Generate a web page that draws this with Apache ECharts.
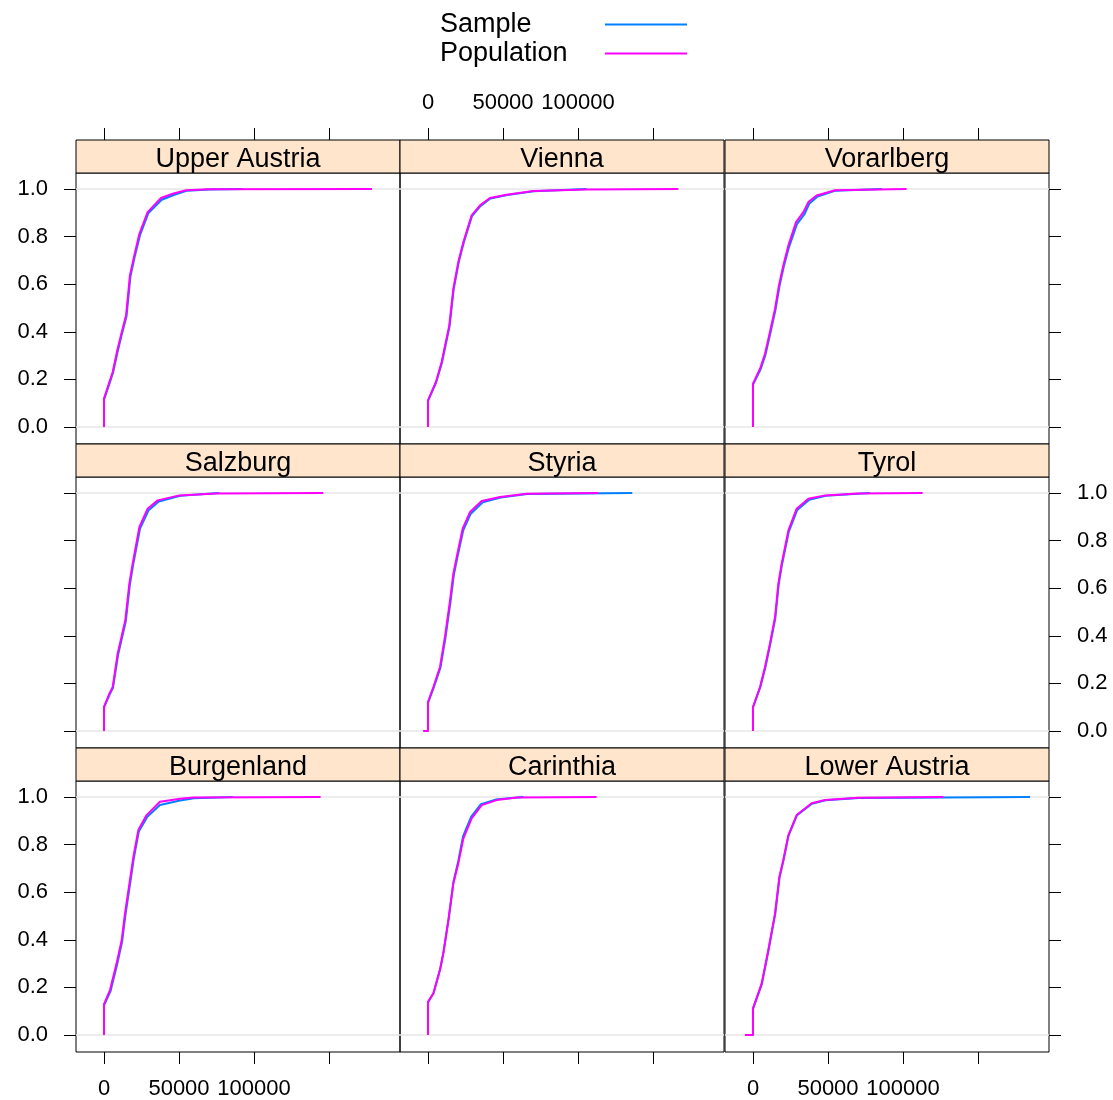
<!DOCTYPE html>
<html><head><meta charset="utf-8">
<script src="https://cdn.jsdelivr.net/npm/echarts@6/dist/echarts.min.js"></script>
<style>html,body{margin:0;padding:0;background:#fff}#c{width:1113px;height:1100px}</style>
</head><body><div id="c"></div>
<script>
const panelNames = ['Upper Austria','Vienna','Vorarlberg','Salzburg','Styria','Tyrol','Burgenland','Carinthia','Lower Austria'];
const seriesNames = ['Sample','Population'];
const xTicks = [0, 50000, 100000, 150000];
const xTickLabels = [0, 50000, 100000];
const yTicks = [0, 0.2, 0.4, 0.6, 0.8, 1.0];

const upperAustriaPopulation = [[0,0],[0,0.119],[3600,0.189],[5800,0.231],[9100,0.329],[11300,0.385],[14700,0.469],[15800,0.539],[17300,0.637],[20200,0.721],[23600,0.812],[29100,0.903],[38000,0.962],[45800,0.980],[54700,0.995],[70200,0.999],[178700,1]];
const upperAustriaSample = [[0,0],[0,0.115],[3800,0.185],[6000,0.228],[9400,0.325],[11600,0.382],[15000,0.465],[16100,0.535],[17600,0.632],[20500,0.716],[24000,0.806],[29500,0.898],[38500,0.955],[46500,0.975],[55500,0.993],[70000,0.998],[92700,1]];
const viennaPopulation = [[0,0],[0,0.112],[5300,0.189],[9100,0.273],[14200,0.427],[16900,0.581],[20200,0.693],[23600,0.777],[29100,0.889],[34700,0.931],[41300,0.962],[52400,0.976],[70200,0.992],[105800,0.998],[166900,1]];
const viennaSample = [[0,0],[0,0.110],[5400,0.187],[9300,0.270],[14400,0.424],[17100,0.578],[20400,0.690],[23800,0.774],[29300,0.886],[34900,0.928],[41600,0.960],[52800,0.975],[70500,0.991],[105800,1]];
const vorarlbergPopulation = [[0,0],[0,0.182],[4700,0.245],[8000,0.308],[11300,0.399],[14700,0.497],[17300,0.595],[20200,0.679],[23600,0.763],[28700,0.861],[33600,0.903],[36900,0.945],[42400,0.973],[54700,0.995],[102400,1]];
const vorarlbergSample = [[0,0],[0,0.178],[4900,0.240],[8300,0.303],[11600,0.395],[15000,0.492],[17600,0.590],[20500,0.673],[24000,0.756],[29300,0.852],[34200,0.893],[37500,0.938],[43000,0.968],[55000,0.993],[85800,1]];
const salzburgPopulation = [[0,0],[0,0.101],[3600,0.157],[5800,0.185],[9100,0.325],[14200,0.465],[16900,0.619],[19100,0.703],[23600,0.857],[29100,0.934],[35800,0.969],[50200,0.990],[74700,0.998],[146200,1]];
const salzburgSample = [[0,0],[0,0.099],[3800,0.154],[6000,0.182],[9400,0.320],[14500,0.460],[17200,0.613],[19400,0.697],[24000,0.850],[29800,0.928],[36500,0.964],[50800,0.988],[76700,1]];
const styriaPopulation = [[-3100,0],[0,0],[0,0.122],[3600,0.185],[8000,0.269],[11300,0.395],[14700,0.549],[16900,0.661],[19600,0.745],[23100,0.850],[28000,0.920],[35800,0.966],[48000,0.983],[65800,0.997],[113600,1]];
const styriaSample = [[-3100,0],[0,0],[0,0.118],[3800,0.182],[8300,0.266],[11600,0.390],[15000,0.543],[17200,0.655],[19900,0.739],[23500,0.843],[28500,0.913],[36500,0.961],[48500,0.981],[66000,0.996],[136200,1]];
const tyrolPopulation = [[0,0],[0,0.101],[4700,0.185],[8000,0.269],[11300,0.367],[14700,0.479],[16900,0.619],[19100,0.703],[23600,0.843],[29100,0.934],[36900,0.976],[48000,0.990],[70200,0.998],[113100,1]];
const tyrolSample = [[0,0],[0,0.099],[4800,0.183],[8200,0.266],[11500,0.364],[14900,0.475],[17100,0.614],[19300,0.698],[23900,0.838],[29500,0.929],[37500,0.972],[48500,0.988],[78000,1]];
const burgenlandPopulation = [[0,0],[0,0.130],[4000,0.189],[8400,0.301],[11800,0.399],[14000,0.511],[17300,0.651],[19600,0.749],[22900,0.861],[28400,0.924],[37300,0.980],[50700,0.993],[60000,0.998],[144400,1]];
const burgenlandSample = [[0,0],[0,0.125],[4300,0.183],[8700,0.295],[12100,0.393],[14300,0.505],[17600,0.645],[19900,0.743],[23200,0.855],[28900,0.917],[37300,0.966],[50700,0.985],[60000,0.995],[86000,1]];
const carinthiaPopulation = [[0,0],[0,0.140],[3600,0.175],[8000,0.273],[10200,0.343],[13600,0.483],[16900,0.637],[20200,0.721],[23600,0.826],[29100,0.910],[35800,0.966],[45800,0.987],[59100,0.998],[112400,1]];
const carinthiaSample = [[0,0],[0,0.137],[3800,0.178],[8200,0.280],[10400,0.350],[13800,0.490],[17000,0.645],[20200,0.731],[23400,0.836],[28800,0.918],[35300,0.970],[45000,0.989],[63600,1]];
const lowerAustriaPopulation = [[-5300,0],[0,0],[0,0.112],[5800,0.217],[10200,0.357],[14700,0.511],[17600,0.665],[20200,0.735],[23600,0.840],[29100,0.924],[39100,0.974],[48000,0.987],[70200,0.997],[126900,1]];
const lowerAustriaSample = [[-5300,0],[0,0],[0,0.110],[5900,0.214],[10300,0.354],[14800,0.508],[17700,0.662],[20300,0.733],[23700,0.838],[29200,0.922],[39300,0.972],[48300,0.986],[70500,0.996],[184700,1]];

const sampleData = [upperAustriaSample, viennaSample, vorarlbergSample, salzburgSample, styriaSample, tyrolSample, burgenlandSample, carinthiaSample, lowerAustriaSample];
const populationData = [upperAustriaPopulation, viennaPopulation, vorarlbergPopulation, salzburgPopulation, styriaPopulation, tyrolPopulation, burgenlandPopulation, carinthiaPopulation, lowerAustriaPopulation];

const FONT = '"Liberation Sans", Arial, Helvetica, sans-serif';
const colLeft = [76, 400, 725];
const colWidth = 324;
const rowTop = [173, 477, 781];
const panelH = 271;
const stripH = 33;
const pxPerX = 75 / 50000;
const xMin = -28 / pxPerX;
const xMax = xMin + colWidth / pxPerX;
const yMin = -17 / 238;
const yMax = yMin + panelH / 238;
const SAMPLE_COLOR = '#0080ff', POP_COLOR = '#ff00ff';

const grids = [], xAxes = [], yAxes = [], series = [], graphics = [];
panelNames.forEach((name, i) => {
  const r = Math.floor(i / 3), c = i % 3;
  grids.push({ left: colLeft[c], top: rowTop[r], width: colWidth, height: panelH, show: true, borderColor: '#000', borderWidth: 1, backgroundColor: 'transparent', containLabel: false });
  const xShowTicks = r !== 1;
  const xShowLabels = (r === 0 && c === 1) || (r === 2 && c !== 1);
  xAxes.push({
    type: 'value', gridIndex: i, min: xMin, max: xMax,
    position: r === 0 ? 'top' : 'bottom', offset: r === 0 ? stripH : 0,
    axisLine: { show: false, onZero: false }, splitLine: { show: false },
    axisTick: { show: xShowTicks, inside: false, length: 12, customValues: xTicks, lineStyle: { color: '#000', width: 1 } },
    axisLabel: { show: xShowLabels, customValues: xTickLabels, margin: 26, fontSize: 22, fontFamily: FONT, color: '#000', formatter: v => String(v) }
  });
  const yShowTicks = c !== 1;
  const yShowLabels = (c === 0 && r !== 1) || (c === 2 && r === 1);
  yAxes.push({
    type: 'value', gridIndex: i, min: yMin, max: yMax,
    position: c === 2 ? 'right' : 'left',
    axisLine: { show: false, onZero: false }, splitLine: { show: false },
    axisTick: { show: yShowTicks, inside: false, length: 12, customValues: yTicks, lineStyle: { color: '#000', width: 1 } },
    axisLabel: { show: yShowLabels, customValues: yTicks, margin: 28, fontSize: 22, fontFamily: FONT, color: '#000', formatter: v => v.toFixed(1) }
  });
  series.push({
    name: seriesNames[0], type: 'line', xAxisIndex: i, yAxisIndex: i, data: sampleData[i],
    symbol: 'none', showSymbol: false, silent: true, z: 2,
    lineStyle: { color: SAMPLE_COLOR, width: 2 }, itemStyle: { color: SAMPLE_COLOR },
    emphasis: { disabled: true },
    markLine: { silent: true, symbol: 'none', z: 1, label: { show: false }, animation: false,
      lineStyle: { color: '#e6e6e6', width: 1.5, type: 'solid' }, emphasis: { disabled: true },
      data: [{ yAxis: 0 }, { yAxis: 1 }] }
  });
  series.push({
    name: seriesNames[1], type: 'line', xAxisIndex: i, yAxisIndex: i, data: populationData[i],
    symbol: 'none', showSymbol: false, silent: true, z: 3,
    lineStyle: { color: POP_COLOR, width: 2 }, itemStyle: { color: POP_COLOR },
    emphasis: { disabled: true }
  });
  const sy = rowTop[r] - stripH;
  graphics.push({ type: 'rect', shape: { x: colLeft[c], y: sy, width: colWidth, height: stripH }, style: { fill: '#ffe5cc', stroke: '#000', lineWidth: 1 }, z: 10 });
  graphics.push({ type: 'text', x: colLeft[c] + colWidth / 2, y: sy + stripH / 2 + 3, style: { text: name, fontSize: 27, fontFamily: FONT, fill: '#000', align: 'center', verticalAlign: 'middle', textAlign: 'center', textVerticalAlign: 'middle' }, z: 11 });
});

const chart = echarts.init(document.getElementById('c'), null, { renderer: 'canvas' });
chart.setOption({
  animation: false,
  backgroundColor: '#fff',
  legend: {
    data: [
      { name: seriesNames[0], icon: 'rect', itemStyle: { color: SAMPLE_COLOR } },
      { name: seriesNames[1], icon: 'rect', itemStyle: { color: POP_COLOR } }
    ],
    orient: 'vertical', left: 435, top: 6, align: 'right',
    itemWidth: 82, itemHeight: 2, itemGap: 2, selectedMode: false,
    formatter: n => '{t|' + n + '}',
    textStyle: { rich: { t: { width: 160, align: 'left', fontSize: 27, fontFamily: FONT, color: '#000', lineHeight: 28 } } }
  },
  grid: grids, xAxis: xAxes, yAxis: yAxes, series: series, graphic: graphics
});
</script></body></html>
